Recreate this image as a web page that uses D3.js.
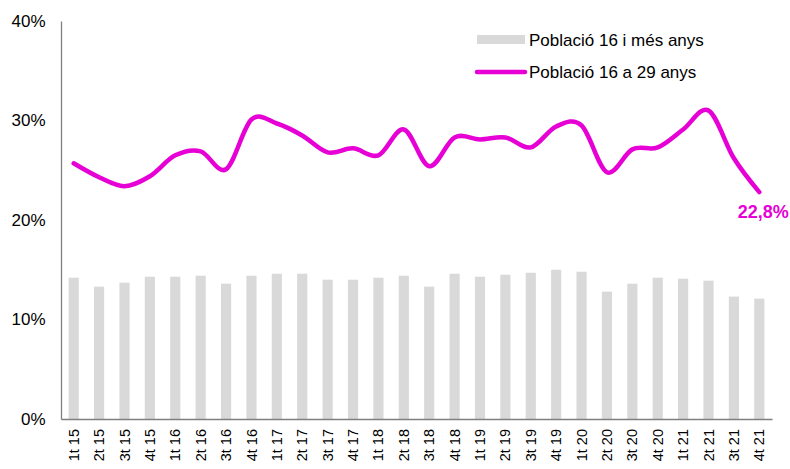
<!DOCTYPE html>
<html><head><meta charset="utf-8">
<script src="https://cdn.jsdelivr.net/npm/d3@7"></script>
<style>body{margin:0;background:#fff}svg{display:block}text{font-family:"Liberation Sans",Arial,sans-serif}</style>
</head><body>
<svg id="c" width="790" height="469"></svg>
<script>
const categories = ["1t 15","2t 15","3t 15","4t 15","1t 16","2t 16","3t 16","4t 16","1t 17","2t 17","3t 17","4t 17","1t 18","2t 18","3t 18","4t 18","1t 19","2t 19","3t 19","4t 19","1t 20","2t 20","3t 20","4t 20","1t 21","2t 21","3t 21","4t 21"];
const pop16plus = [14.2,13.3,13.7,14.3,14.3,14.4,13.6,14.4,14.6,14.6,14.0,14.0,14.2,14.4,13.3,14.6,14.3,14.5,14.7,15.0,14.8,12.8,13.6,14.2,14.1,13.9,12.3,12.1];
const pop16to29 = [25.7,24.3,23.4,24.4,26.5,26.9,25.1,30.1,29.7,28.5,26.8,27.2,26.5,29.1,25.4,28.3,28.1,28.3,27.3,29.4,29.5,24.8,27.1,27.3,29.1,31.0,26.2,22.8];
const yTicks = [0,10,20,30,40];
const seriesNames = ["Població 16 i més anys","Població 16 a 29 anys"];
const lastLabel = "22,8%";

(function(){
const svg = d3.select("#c");
const mLeft = 61, mRight = 772, mTop = 21, mBottom = 419;
const x = d3.scaleBand().domain(categories).range([mLeft, mRight]).paddingInner(0.6).paddingOuter(0.3);
const y = d3.scaleLinear().domain([0, 40]).range([mBottom, mTop]);
const magenta = "#E600D6", grey = "#D9D9D9";
const FF = '"Liberation Sans",Arial,sans-serif';

svg.append("g").selectAll("rect").data(pop16plus).join("rect")
  .attr("x", (d,i) => x(categories[i]))
  .attr("width", x.bandwidth())
  .attr("y", d => y(d))
  .attr("height", d => y(0) - y(d))
  .attr("fill", grey);

const cx = c => x(c) + x.bandwidth()/2;
const line = d3.line().x((d,i) => cx(categories[i])).y(d => y(d)).curve(d3.curveCardinal.tension(0));
svg.append("path").datum(pop16to29).attr("d", line)
  .attr("fill","none").attr("stroke", magenta).attr("stroke-width", 4.5)
  .attr("stroke-linecap","round").attr("stroke-linejoin","round");

const ya = svg.append("g").attr("transform", `translate(${mLeft},0)`)
  .call(d3.axisLeft(y).tickValues(yTicks).tickFormat(d => d + "%").tickSize(0).tickPadding(15.5));
ya.select(".domain").attr("stroke","#7f7f7f").attr("stroke-width",1.3);
ya.selectAll("text").attr("font-size", 17).attr("fill","#000").attr("font-family",FF);

const xa = svg.append("g").attr("transform", `translate(0,${mBottom})`)
  .call(d3.axisBottom(x).tickSize(0).tickPadding(0));
xa.select(".domain").attr("stroke","#7f7f7f").attr("stroke-width",1.3);
xa.selectAll("text")
  .attr("font-size", 14.5).attr("fill","#000").attr("font-family",FF)
  .attr("text-anchor","end").attr("dy","0.35em")
  .attr("transform","translate(0,10) rotate(-90)").attr("x",0).attr("y",0);

const lastI = categories.length - 1;
svg.append("text").attr("x", cx(categories[lastI]) + 4).attr("y", 218)
  .attr("text-anchor","middle").attr("font-size",18).attr("font-weight","bold").attr("fill", magenta).attr("font-family",FF).text(lastLabel);

const lg = svg.append("g");
lg.append("rect").attr("x",477).attr("y",35).attr("width",48).attr("height",9).attr("fill",grey);
lg.append("text").attr("x",529).attr("y",40).attr("dy","0.35em").attr("font-size",17).attr("fill","#000").attr("font-family",FF).text(seriesNames[0]);
lg.append("line").attr("x1",477).attr("x2",525).attr("y1",72).attr("y2",72).attr("stroke",magenta).attr("stroke-width",4.5).attr("stroke-linecap","round");
lg.append("text").attr("x",529).attr("y",72).attr("dy","0.35em").attr("font-size",17).attr("fill","#000").attr("font-family",FF).text(seriesNames[1]);
})();
</script>
</body></html>
